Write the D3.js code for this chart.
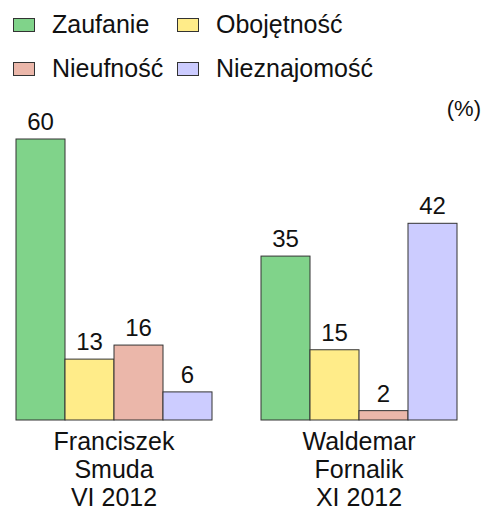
<!DOCTYPE html>
<html>
<head>
<meta charset="utf-8">
<script src="https://cdn.jsdelivr.net/npm/d3@7"></script>
<style>
  html, body { margin: 0; padding: 0; background: #fff; }
  svg text { font-family: "Liberation Sans", Arial, sans-serif; fill: #111; }
</style>
</head>
<body>
<div id="chart"></div>
<script>
(function () {
  'use strict';
  const groups = ['Franciszek Smuda VI 2012', 'Waldemar Fornalik XI 2012'];
  const groupLines = [['Franciszek', 'Smuda', 'VI 2012'], ['Waldemar', 'Fornalik', 'XI 2012']];
  const series = ['Zaufanie', 'Obojętność', 'Nieufność', 'Nieznajomość'];
  const colors = ['#80d38a', '#ffec89', '#ebb7aa', '#ccccff'];
  const smuda = [60, 13, 16, 6];
  const fornalik = [35, 15, 2, 42];
  const values = [smuda, fornalik];

  const width = 484;
  const height = 510;
  const baseline = 420;

  const svg = d3.select('#chart')
    .append('svg')
    .attr('width', width)
    .attr('height', height);

  const x0 = d3.scaleBand()
    .domain(groups)
    .range([16, 457])
    .paddingInner(0.2)
    .paddingOuter(0);

  const x1 = d3.scaleBand()
    .domain(series)
    .range([0, x0.bandwidth()]);

  const y = d3.scaleLinear()
    .domain([0, 60])
    .range([baseline, 139]);

  // bars
  const g = svg.selectAll('g.group')
    .data(groups)
    .enter()
    .append('g')
    .attr('class', 'group')
    .attr('transform', d => 'translate(' + x0(d) + ',0)');

  g.selectAll('rect')
    .data((d, i) => values[i].map((v, j) => ({ key: series[j], value: v, color: colors[j] })))
    .enter()
    .append('rect')
    .attr('x', d => x1(d.key))
    .attr('y', d => y(d.value))
    .attr('width', x1.bandwidth())
    .attr('height', d => baseline - y(d.value))
    .attr('fill', d => d.color)
    .attr('stroke', '#333')
    .attr('stroke-width', 1);

  g.selectAll('text.value')
    .data((d, i) => values[i].map((v, j) => ({ key: series[j], value: v })))
    .enter()
    .append('text')
    .attr('class', 'value')
    .attr('x', d => x1(d.key) + x1.bandwidth() / 2)
    .attr('y', d => y(d.value) - 9)
    .attr('text-anchor', 'middle')
    .style('font-size', '24px')
    .text(d => d.value);

  // category labels
  groups.forEach(function (grp, i) {
    const t = svg.append('text')
      .attr('text-anchor', 'middle')
      .style('font-size', '25px');
    groupLines[i].forEach(function (line, k) {
      t.append('tspan')
        .attr('x', x0(grp) + x0.bandwidth() / 2)
        .attr('y', 450 + k * 28)
        .text(line);
    });
  });

  // unit
  svg.append('text')
    .attr('x', 481)
    .attr('y', 116)
    .attr('text-anchor', 'end')
    .style('font-size', '22px')
    .text('(%)');

  // legend
  const legendPos = [[13, 18], [177, 18], [13, 62], [177, 62]];
  const legendOrder = [0, 1, 2, 3];
  legendOrder.forEach(function (s, i) {
    const p = legendPos[i];
    svg.append('rect')
      .attr('x', p[0] + 0.5)
      .attr('y', p[1] + 0.5)
      .attr('width', 21)
      .attr('height', 13)
      .attr('fill', colors[s])
      .attr('stroke', '#333');
    svg.append('text')
      .attr('x', p[0] + 39)
      .attr('y', p[1] + 15)
      .style('font-size', '25px')
      .text(series[s]);
  });
}());
</script>
</body>
</html>
